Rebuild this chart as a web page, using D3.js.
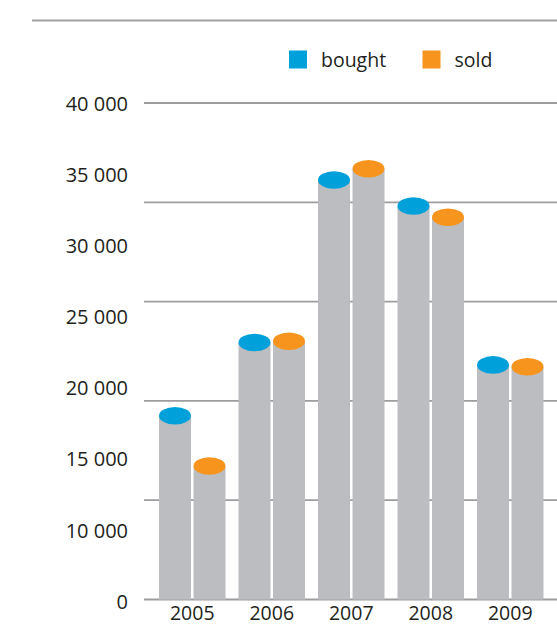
<!DOCTYPE html>
<html>
<head>
<meta charset="utf-8">
<script src="https://cdn.jsdelivr.net/npm/d3@7"></script>
<style>
  html, body { margin: 0; padding: 0; background: #ffffff; }
  svg { display: block; }
  text { font-family: "Open Sans", "Noto Sans", sans-serif; fill: #231f20; }
</style>
</head>
<body>
<div id="chart"></div>
<script>
// ---- data ----
const years = ["2005", "2006", "2007", "2008", "2009"];
const seriesNames = ["bought", "sold"];
const bought = [14800, 20700, 33800, 31700, 18900];
const sold = [10750, 20800, 34700, 30800, 18750];
const yTickLabels = ["40 000", "35 000", "30 000", "25 000", "20 000", "15 000", "10 000", "0"];
const gridValues = [0, 8000, 16000, 24000, 32000, 40000];
const colors = { bought: "#00a1db", sold: "#f7941e" };

const W = 557, H = 626;
const svg = d3.select("#chart").append("svg").attr("width", W).attr("height", H);

const y = d3.scaleLinear().domain([0, 40000]).range([599.5, 103]);
const x = d3.scaleBand().domain(years).range([144, 558.5]).paddingInner(0.1635).paddingOuter(0.1887);
const xs = d3.scaleBand().domain(seriesNames).range([0, x.bandwidth()]).paddingInner(0.073);
const labelY = d3.scalePoint().domain(yTickLabels).range([103.3, 601.5]);

// top rule
svg.append("line").attr("x1", 32).attr("x2", W).attr("y1", 20.5).attr("y2", 20.5)
  .attr("stroke", "#a2a2a4").attr("stroke-width", 2);

// gridlines
svg.append("g").selectAll("line").data(gridValues).join("line")
  .attr("x1", 144).attr("x2", W)
  .attr("y1", d => y(d)).attr("y2", d => y(d))
  .attr("stroke", "#9d9d9f").attr("stroke-width", 1.8);

// y labels
svg.append("g").selectAll("text").data(yTickLabels).join("text")
  .attr("x", 128).attr("y", d => labelY(d)).attr("dy", "0.36em")
  .attr("text-anchor", "end").attr("font-size", 20).text(d => d);

// bars as cylinders
const rows = years.map((yr, i) => ({ year: yr, vals: [
  { key: "bought", v: bought[i] }, { key: "sold", v: sold[i] } ] }));

const groups = svg.append("g").selectAll("g").data(rows).join("g")
  .attr("transform", d => `translate(${x(d.year)},0)`);

groups.selectAll("rect").data(d => d.vals).join("rect")
  .attr("x", d => xs(d.key)).attr("width", xs.bandwidth())
  .attr("y", d => y(d.v)).attr("height", d => y(0) - y(d.v))
  .attr("fill", "#bcbdc0");

groups.selectAll("ellipse").data(d => d.vals).join("ellipse")
  .attr("cx", d => xs(d.key) + xs.bandwidth() / 2)
  .attr("cy", d => y(d.v))
  .attr("rx", xs.bandwidth() / 2).attr("ry", 8.8)
  .attr("fill", d => colors[d.key]);

// x labels
svg.append("g").selectAll("text").data(years).join("text")
  .attr("x", d => x(d) + x.bandwidth() / 2).attr("y", 620)
  .attr("text-anchor", "middle").attr("font-size", 19.5).text(d => d);

// legend
const legendX = { bought: 289, sold: 422.5 };
const lg = svg.append("g").selectAll("g").data(seriesNames).join("g")
  .attr("transform", d => `translate(${legendX[d]},50.5)`);
lg.append("rect").attr("width", 18).attr("height", 18).attr("fill", d => colors[d]);
lg.append("text").attr("x", 32).attr("y", 16.5).attr("font-size", 19.5).text(d => d);
</script>
</body>
</html>
